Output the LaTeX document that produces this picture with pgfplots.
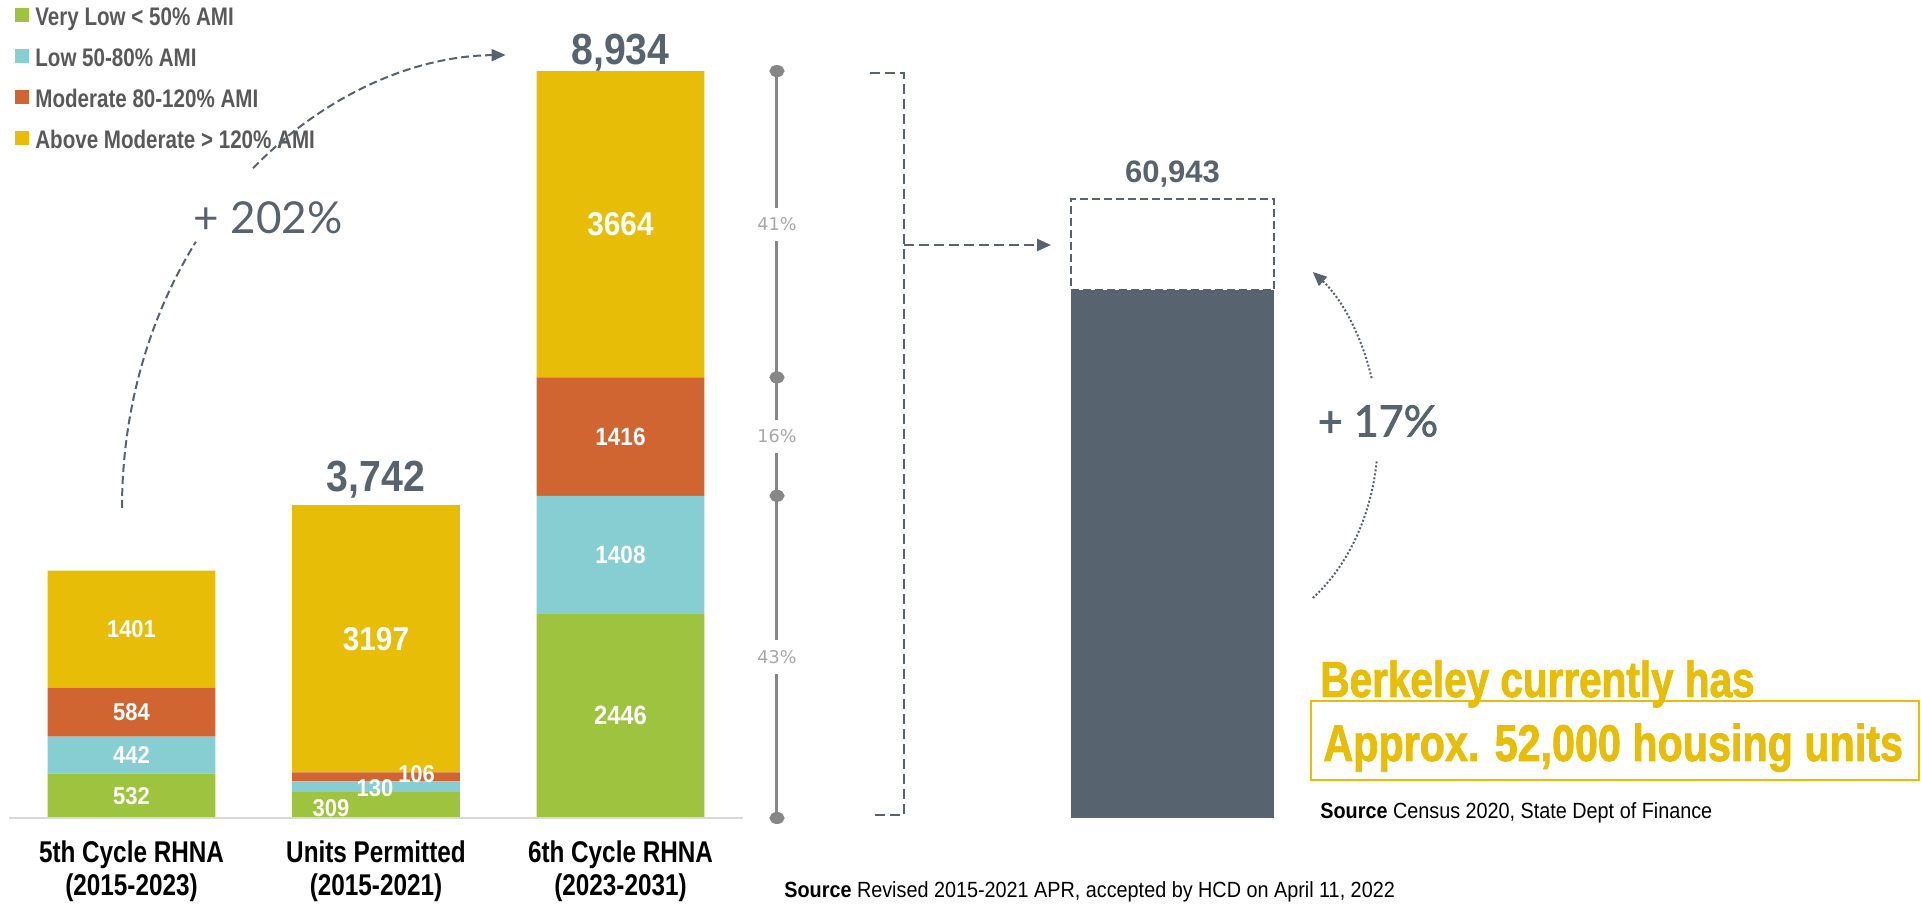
\documentclass[border=0pt]{standalone}
\usepackage{pgfplots}
\pgfplotsset{compat=1.18}
\usepackage{fontspec}
\usetikzlibrary{arrows.meta}
\setmainfont{Liberation Sans}
\newfontfamily\cnd[FakeStretch=0.81]{Liberation Sans}
\newfontfamily\cnum[FakeStretch=0.9]{Liberation Sans}
\newfontfamily\cndh[FakeStretch=0.8,FakeBold=1.6]{Liberation Sans}
\newfontfamily\lato{Lato}
\newfontfamily\latom[FakeBold=1.8]{Lato}
\newfontfamily\dejav{DejaVu Sans}
\definecolor{vlgreen}{HTML}{9DC33F}
\definecolor{lowcyan}{HTML}{86CED2}
\definecolor{modorange}{HTML}{D06532}
\definecolor{abyellow}{HTML}{E8BD07}
\definecolor{slate}{HTML}{57636F}
\definecolor{legtext}{HTML}{595959}
\definecolor{scalegray}{HTML}{878787}
\definecolor{pctgray}{HTML}{A8A8A8}
\definecolor{baseline}{HTML}{D9D9D9}
\newcommand\fs[2]{\fontsize{#1}{#2}\selectfont}
\begin{document}
\begin{tikzpicture}[x=0.5pt,y=0.5pt]
% ---------- left stacked bars ----------
\begin{axis}[
  at={(4.625pt,43pt)}, anchor=south west, scale only axis,
  width=366.75pt, height=405.5pt,
  xmin=-0.5, xmax=2.5, ymin=0, ymax=9700,
  ybar stacked, bar width=0.687,
  axis x line*=bottom, axis y line=none,
  x axis line style={-, draw=baseline, line width=1pt},
  axis on top,
  xtick={0,1,2},
  xticklabels={{5th Cycle RHNA\\(2015-2023)},{Units Permitted\\(2015-2021)},{6th Cycle RHNA\\(2023-2031)}},
  xticklabel style={align=center, inner sep=0pt, yshift=-11.25pt, text=black, font=\cnd\bfseries\fs{15}{16.5}},
  major tick length=0pt, ytick=\empty,
  clip=false,
  legend cell align=left,
  legend style={at={(0.0078,1.0015)}, anchor=north west, draw=none, fill=none, inner sep=0pt,
    row sep=8.5pt, column sep=3pt, font=\cnd\bfseries\fs{12.7}{14}, text=legtext,
    nodes={inner sep=0pt, text height=9.5pt, text depth=2.5pt}},
  legend image code/.code={\fill[#1] (0pt,-2pt) rectangle (7pt,5pt);},
]
\addplot[fill=vlgreen, draw=none] coordinates {(0,532) (1,309) (2,2446)};
\addlegendentry{Very Low < 50\% AMI}
\addplot[fill=lowcyan, draw=none] coordinates {(0,442) (1,130) (2,1408)};
\addlegendentry{Low 50-80\% AMI}
\addplot[fill=modorange, draw=none] coordinates {(0,584) (1,106) (2,1416)};
\addlegendentry{Moderate 80-120\% AMI}
\addplot[fill=abyellow, draw=none] coordinates {(0,1401) (1,3197) (2,3664)};
\addlegendentry{Above Moderate > 120\% AMI}
\end{axis}
% ---------- overlay: labels and share scale ----------
\begin{axis}[
  at={(4.625pt,43pt)}, anchor=south west, scale only axis,
  width=366.75pt, height=405.5pt,
  xmin=-0.5, xmax=2.5, ymin=0, ymax=9700,
  hide axis, clip=false]
\addplot[draw=scalegray, line width=1.5pt, mark=*, mark size=2.25pt,
  mark options={fill=scalegray, draw=none, xscale=1.33}]
  coordinates {(2.64,0) (2.64,3854) (2.64,5270) (2.64,8934)};
\tikzset{pct/.style={fill=white, inner xsep=1pt, inner ysep=5pt, text=pctgray, font=\dejav\fs{8.8}{9}}}
\node[pct] at (axis cs:2.64,7102) {41\%};
\node[pct] at (axis cs:2.64,4562) {16\%};
\node[pct] at (axis cs:2.64,1927) {43\%};
% segment values
\tikzset{seg/.style={text=white, inner sep=0pt, font=\cnum\bfseries\fs{#1}{#1}}}
\node[seg=12.2] at (axis cs:0,266) {532};
\node[seg=12.2] at (axis cs:0,753) {442};
\node[seg=12.2] at (axis cs:0,1266) {584};
\node[seg=12.2] at (axis cs:0,2258.5) {1401};
\node[seg=12.2] at (axis cs:0.816,114) {309};
\node[seg=12.2] at (axis cs:0.996,359) {130};
\node[seg=12.2] at (axis cs:1.166,526) {106};
\node[seg=16.5] at (axis cs:1,2143.5) {3197};
\node[seg=13.2] at (axis cs:2,1223) {2446};
\node[seg=12.5] at (axis cs:2,3150) {1408};
\node[seg=12.5] at (axis cs:2,4562) {1416};
\node[seg=16.5] at (axis cs:2,7102) {3664};
% totals
\node[anchor=base, inner sep=0pt, yshift=7pt, text=slate, font=\cnum\bfseries\fs{21.8}{22}] at (axis cs:1,3742) {3,742};
\node[anchor=base, inner sep=0pt, yshift=3.5pt, text=slate, font=\cnum\bfseries\fs{21.8}{22}] at (axis cs:2,8934) {8,934};
\end{axis}
% ---------- right bar ----------
\begin{axis}[
  at={(535.5pt,43pt)}, anchor=south west, scale only axis,
  width=101.5pt, height=330.2pt,
  xmin=-0.5, xmax=0.5, ymin=0, ymax=65000,
  ybar stacked, bar width=1,
  hide axis, clip=false]
\addplot[fill=slate, draw=none] coordinates {(0,52000)};
\addplot[fill=white, draw=slate, line width=1pt, dash pattern=on 4pt off 2pt] coordinates {(0,8943)};
\node[anchor=base, inner sep=0pt, yshift=8pt, text=slate, font=\bfseries\fs{15.5}{16}] at (axis cs:0,60943) {60,943};
\node[inner sep=0pt, text=lowcyan, font=\bfseries\fs{15.5}{16}] at (axis cs:0,56471.5) {8,943};
\end{axis}
% ---------- annotations ----------
\tikzset{arr/.style={-{Triangle[length=7pt,width=6pt]}}}
% bracket
\draw[slate, line width=1.25pt, dash pattern=on 5pt off 2.5pt] (870,831) -- (904,831) -- (904,89) -- (872,89);
\draw[slate, line width=1.25pt, dash pattern=on 5pt off 2.5pt, arr] (904,659) -- (1051,659);
% +202% arc
\draw[slate, line width=1pt, dash pattern=on 4pt off 2pt] (122,396) arc[start angle=180, end angle=144, x radius=193.5pt, y radius=226.5pt];
\draw[slate, line width=1pt, dash pattern=on 4pt off 2pt, arr] (253.1,735.8) arc[start angle=131.4, end angle=90.5, x radius=193.5pt, y radius=226.5pt];
\node[text=slate, inner sep=0pt, font=\lato\fs{22}{24}] at (268,686) {+ 202\%};
% +17% arc
\draw[slate, line width=1pt, dash pattern=on 1pt off 1pt] (1312.8,306) arc[start angle=-54.6, end angle=-7.2, x radius=77.5pt, y radius=100pt];
\draw[slate, line width=1pt, dash pattern=on 1pt off 1pt, arr] (1371.6,525.8) arc[start angle=16.5, end angle=54.6, x radius=77.5pt, y radius=100pt];
\node[text=slate, inner sep=0pt, font=\latom\fs{21.5}{24}] at (1378,483) {+ 17\%};
% Berkeley text
\node[anchor=base west, inner sep=0pt, text=abyellow, font=\cndh\bfseries\fs{25.3}{26}] at (1320,207) {Berkeley currently has};
\draw[abyellow, line width=1.2pt] (1311,203) rectangle (1919,124);
\node[anchor=base west, inner sep=0pt, text=abyellow, font=\cndh\bfseries\fs{25.8}{26}] at (1323,143) {Approx. 52,000 housing units};
\node[anchor=base west, inner sep=0pt, font=\cnum\fs{11}{12}] at (1320,85) {\textbf{Source} Census 2020, State Dept of Finance};
\node[anchor=base west, inner sep=0pt, font=\cnum\fs{11}{12}] at (784,6) {\textbf{Source} Revised 2015-2021 APR, accepted by HCD on April 11, 2022};
\pgfresetboundingbox
\path[use as bounding box] (0,0) rectangle (1921,904);
\end{tikzpicture}
\end{document}
